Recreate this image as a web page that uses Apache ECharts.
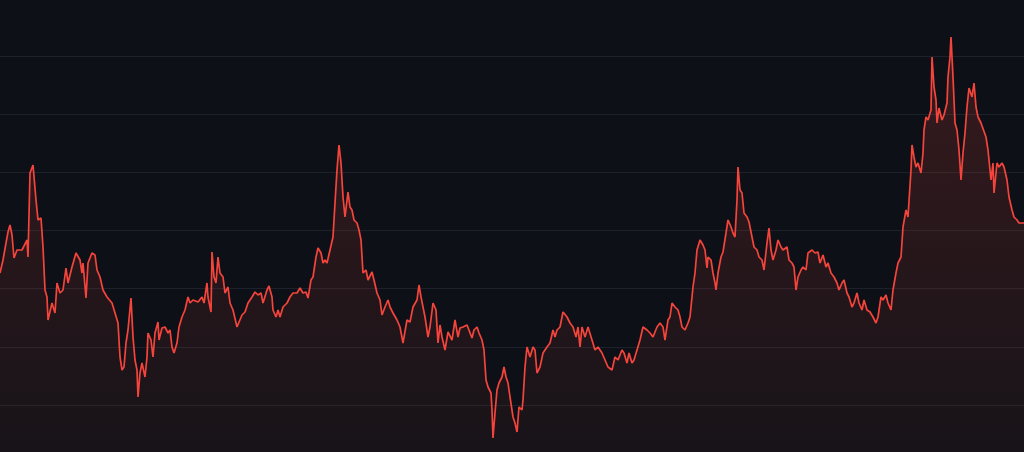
<!DOCTYPE html>
<html>
<head>
<meta charset="utf-8">
<script src="https://cdn.jsdelivr.net/npm/echarts@6/dist/echarts.min.js"></script>
<style>
html,body{margin:0;padding:0;background:#0d1117;}
#chart{width:1024px;height:452px;}
</style>
</head>
<body>
<div id="chart"></div>
<script>
const days = [0,3,6,8,10,12,14,17,22,27,28,30,33,36,38,41,43,45,47,48,52,55,57,60,63,66,68,72,76,80,82,83,86,88,92,95,97,100,103,107,112,115,118,120,122,124,126,128,131,133,135,137,138,140,142,145,147,148,151,153,155,158,159,162,165,168,170,172,174,177,179,182,185,188,190,193,198,202,204,207,208,211,212,214,216,218,220,223,225,228,230,233,237,238,242,245,248,252,255,258,261,263,267,269,272,273,276,278,280,283,287,290,293,297,300,303,306,308,311,313,316,318,321,323,325,327,330,333,335,337,339,341,343,345,348,350,352,354,357,359,361,363,366,368,372,374,377,380,382,385,388,390,393,397,400,403,407,410,413,417,419,421,423,425,428,430,433,436,438,440,442,445,448,452,455,458,460,463,467,469,472,474,477,479,482,484,486,488,491,492,493,495,497,499,502,504,506,508,510,513,515,517,519,522,523,525,527,528,530,533,535,537,540,543,545,547,550,553,555,557,560,563,565,567,570,573,576,578,580,582,585,588,592,595,598,602,605,608,612,615,618,622,624,627,629,632,634,637,640,643,647,650,653,657,660,663,665,668,670,672,675,678,680,682,685,688,690,693,695,697,700,703,705,707,708,711,713,715,716,718,721,723,726,728,731,733,735,737,738,740,742,744,747,749,752,754,757,759,762,764,767,769,771,773,776,778,781,783,787,789,792,794,796,798,801,803,806,808,812,815,818,820,823,826,828,831,834,837,839,842,844,847,849,852,854,857,859,862,864,867,870,873,876,878,881,883,886,888,891,893,896,898,901,903,906,908,911,912,914,916,918,921,923,924,926,928,931,932,934,936,937,939,942,944,947,948,950,951,953,955,957,959,961,963,965,967,969,972,974,976,978,981,983,986,988,991,993,994,997,999,1002,1004,1007,1009,1012,1014,1017,1019,1024];
const values = [190,203,220,231,238,228,205,213,213,223,206,290,298,263,243,245,216,173,166,143,160,150,180,170,173,195,180,196,210,203,190,200,165,200,210,208,193,186,173,166,160,150,140,106,93,96,120,133,165,126,103,93,66,90,100,86,106,130,123,106,130,141,123,135,136,130,133,116,110,120,136,146,153,166,160,163,161,166,160,180,166,151,211,186,180,206,190,186,170,176,160,153,136,135,148,151,160,166,171,168,170,160,173,177,166,153,146,153,146,156,160,166,170,170,175,170,171,165,183,186,206,215,210,200,203,200,213,226,260,293,318,300,266,246,271,256,253,243,240,233,223,190,193,183,191,183,170,163,148,156,163,156,150,143,136,120,143,141,156,163,178,166,156,146,126,136,160,153,120,138,126,113,131,123,143,126,135,136,138,140,125,133,136,130,123,113,83,76,70,53,25,50,73,80,86,96,86,80,66,46,40,31,56,53,63,96,116,118,106,116,113,90,96,110,113,116,120,133,126,133,136,151,150,146,140,136,126,136,116,136,126,136,123,113,116,110,103,96,93,106,103,113,110,100,110,100,103,113,123,136,133,130,126,136,140,136,123,143,146,160,156,153,146,136,133,140,146,176,190,213,223,218,213,195,206,203,190,180,173,190,206,211,230,243,236,230,226,263,296,273,270,250,246,241,226,216,213,206,203,193,220,235,213,203,213,223,216,213,216,203,200,196,173,186,193,196,193,210,213,210,211,200,208,196,200,190,186,180,173,180,183,170,166,156,160,170,160,153,163,153,151,146,140,146,166,163,168,160,153,173,190,200,206,236,253,246,293,318,306,296,300,290,310,333,346,343,353,406,376,363,340,355,343,348,360,386,406,426,386,340,333,313,283,310,330,356,375,366,380,356,346,340,340,326,313,283,300,270,300,296,300,296,283,266,253,246,243,240,240];

const seriesData = days.map((d, i) => [d, values[i]]);

const chart = echarts.init(document.getElementById('chart'), null, {renderer: 'canvas'});
chart.setOption({
  backgroundColor: '#0d1117',
  animation: false,
  grid: {left: 0, right: 0, top: -2, bottom: -11, outerBoundsMode: 'none', containLabel: false},
  xAxis: {
    type: 'value', min: 0, max: 1024,
    show: false
  },
  yAxis: {
    type: 'value', min: 0, max: 465, interval: 58.125,
    axisLine: {show: false}, axisTick: {show: false}, axisLabel: {show: false},
    splitLine: {show: true, lineStyle: {color: 'rgba(140,160,190,0.12)', width: 1}}
  },
  series: [{
    type: 'line',
    data: seriesData,
    showSymbol: false,
    symbol: 'none',
    lineStyle: {color: '#f5443b', width: 1.7},
    areaStyle: {
      color: new echarts.graphic.LinearGradient(0, 0, 0, 1, [
        {offset: 0, color: 'rgba(245,68,59,0.26)'},
        {offset: 1, color: 'rgba(245,68,59,0.06)'}
      ])
    }
  }]
});
</script>
</body>
</html>
